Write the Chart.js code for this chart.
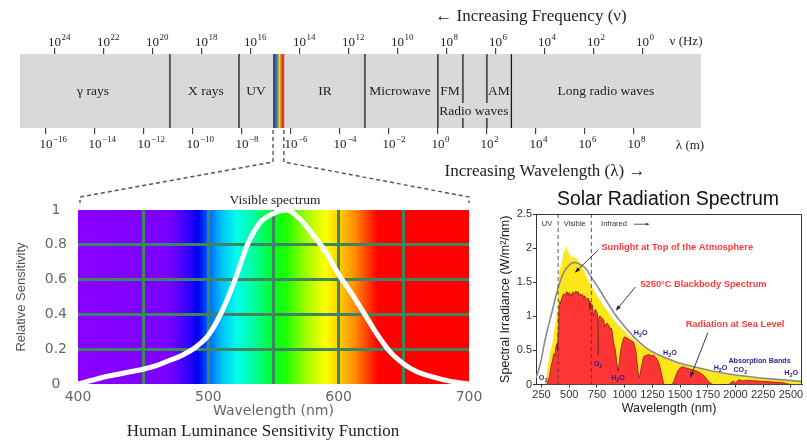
<!DOCTYPE html>
<html>
<head>
<meta charset="utf-8">
<title>Electromagnetic spectrum</title>
<script src="https://cdn.jsdelivr.net/npm/chart.js@4.4.1/dist/chart.umd.min.js"></script>
<style>
  body { margin: 0; background: #fff; width: 807px; height: 440px; position: relative; overflow: hidden; }
  canvas { position: absolute; }
</style>
</head>
<body>
<canvas id="em-band" width="807" height="190" style="left:0;top:0"></canvas>
<canvas id="lum-chart" width="490" height="320" style="left:0;top:120px"></canvas>
<canvas id="solar-chart" width="317" height="255" style="left:490px;top:185px"></canvas>
<canvas id="links" width="807" height="440" style="left:0;top:0"></canvas>
<script>
/* ── EM band: x is log10(wavelength / m) ───────────────────── */
const lambdaMin   = -17.06;
const lambdaMax   = 10.74;
const bandEdges   = [-10.94, -8.12, -2.98, 0, 1.02, 2.0, 3.0];
const visibleBand = [-6.73, -6.29];
const bandNames   = ['γ rays', 'X rays', 'UV', 'IR', 'Microwave', 'FM', 'AM', 'Long radio waves'];
const bandCenters = [-14.08, -9.47, -7.43, -4.61, -1.55, 0.49, 2.49, 6.86];
const lambdaTicks = [-16, -14, -12, -10, -8, -6, -4, -2, 0, 2, 4, 6, 8];
const freqTicks   = [24, 22, 20, 18, 16, 14, 12, 10, 8, 6, 4, 2, 0];
const freqShift   = 8.35;   // log10(nu) = freqShift - log10(lambda) on this drawing

/* ── Luminance sensitivity ─────────────────────────────────── */
const lumWavelengths = [400, 410, 420, 430, 440, 450, 460, 470, 480, 490, 500, 510, 520, 530, 540, 550,
                        560, 570, 580, 590, 600, 610, 620, 630, 640, 650, 660, 670, 680, 690, 700];
const lumSensitivity = [0, 0.02, 0.04, 0.055, 0.07, 0.085, 0.105, 0.135, 0.165, 0.21, 0.28, 0.41, 0.59, 0.80, 0.93, 0.98,
                        1.0, 0.95, 0.86, 0.76, 0.63, 0.52, 0.40, 0.28, 0.18, 0.115, 0.07, 0.045, 0.025, 0.01, 0];
const spectrumStops  = [400, 470, 485, 492, 500, 510, 522, 535, 550, 560, 575, 590, 600, 612, 622, 630, 700];
const spectrumColors = ['#8a00ff', '#7a00ff', '#3000ff', '#0000f0', '#0060ff', '#00c0ff', '#00ffe8', '#00ffa0',
                        '#00ff20', '#20ff00', '#a0ff00', '#ffff00', '#ffd000', '#ff9000', '#ff4000', '#ff0000', '#ff0000'];

/* ── Solar spectrum (nm, W/m²/nm) ──────────────────────────── */
const solarTicks = [250, 500, 750, 1000, 1250, 1500, 1750, 2000, 2250, 2500];
const bandLimits = [400, 700];

const bbWl  = [200, 225, 250, 275, 300, 325, 350, 375, 400, 450, 500, 550, 600, 650, 700, 750, 800, 900,
               1000, 1100, 1200, 1300, 1400, 1500, 1600, 1700, 1800, 1900, 2000, 2100, 2200, 2300, 2400, 2500, 2600];
const bbVal = [0.10, 0.22, 0.38, 0.60, 0.78, 0.94, 1.10, 1.27, 1.42, 1.64, 1.75, 1.79, 1.76, 1.70, 1.57, 1.45, 1.32, 1.06,
               0.85, 0.67, 0.53, 0.44, 0.37, 0.31, 0.27, 0.23, 0.195, 0.165, 0.14, 0.12, 0.10, 0.086, 0.072, 0.058, 0.045];

const toaWl  = [280, 290, 300, 310, 320, 330, 340, 350, 360, 370, 380, 390, 395,
                400, 405, 410, 415, 420, 425, 430, 435, 440, 445, 450, 455, 460, 465, 470, 475, 480, 485, 490, 495,
                500, 505, 510, 515, 520, 525, 530, 535, 540, 545, 550, 555, 560, 565, 570, 575, 580, 585, 590, 595, 600,
                610, 620, 630, 640, 650, 660, 670, 680, 690, 700, 720, 740, 760, 780, 800, 830, 860, 900,
                950, 1000, 1050, 1100, 1150, 1200, 1300, 1400, 1500, 1600, 1700, 1800, 1900, 2000, 2100, 2200, 2300, 2400, 2500, 2600];
const toaVal = [0, 0.08, 0.2, 0.3, 0.4, 0.5, 0.55, 0.62, 0.75, 0.82, 0.95, 1.1, 1.05,
                1.45, 1.6, 1.72, 1.62, 1.78, 1.7, 1.68, 1.85, 1.8, 1.92, 2.0, 1.95, 2.03, 1.96, 2.05, 1.98, 2.04, 1.95, 1.9, 1.98,
                1.93, 1.97, 1.88, 1.83, 1.9, 1.86, 1.92, 1.87, 1.9, 1.86, 1.89, 1.85, 1.87, 1.83, 1.86, 1.82, 1.84, 1.79, 1.81, 1.77, 1.78,
                1.74, 1.71, 1.67, 1.64, 1.6, 1.57, 1.54, 1.51, 1.48, 1.45, 1.39, 1.33, 1.28, 1.23, 1.18, 1.11, 1.04, 0.95,
                0.86, 0.78, 0.70, 0.63, 0.57, 0.52, 0.43, 0.36, 0.30, 0.26, 0.22, 0.185, 0.155, 0.13, 0.11, 0.093, 0.079, 0.066, 0.055, 0.045];

const seaWl  = [295, 310, 320, 330, 340, 350, 360, 370, 380, 390,
                395, 400, 405, 410, 415, 420, 430, 440, 450, 460,
                470, 480, 490, 500, 510, 520, 530, 540, 550, 560,
                570, 580, 590, 600, 610, 620, 630, 640, 650, 660,
                670, 680, 686, 690, 700, 710, 718, 725, 735, 745,
                755, 760, 765, 770, 780, 790, 800, 810, 820, 830,
                840, 850, 860, 870, 880, 890, 900, 910, 920, 930,
                940, 950, 960, 970, 980, 990, 1000, 1020, 1040, 1060,
                1080, 1100, 1110, 1120, 1130, 1140, 1150, 1160, 1170, 1180,
                1200, 1220, 1240, 1260, 1280, 1300, 1320, 1340, 1350, 1360,
                1420, 1440, 1460, 1480, 1500, 1520, 1540, 1560, 1580, 1600,
                1620, 1640, 1660, 1680, 1700, 1720, 1740, 1760, 1780, 1800,
                1940, 1960, 1980, 2000, 2010, 2020, 2040, 2060, 2080, 2100,
                2150, 2200, 2250, 2300, 2350, 2400, 2450, 2480, 2500];
const seaVal = [0, 0.05, 0.12, 0.2, 0.3, 0.35, 0.45, 0.42, 0.55, 0.6,
                0.5, 0.78, 1.0, 1.15, 1.22, 1.18, 1.25, 1.3, 1.33, 1.31,
                1.34, 1.36, 1.3, 1.35, 1.32, 1.3, 1.36, 1.33, 1.35, 1.37,
                1.34, 1.36, 1.31, 1.33, 1.3, 1.32, 1.27, 1.3, 1.26, 1.24,
                1.27, 1.22, 1.1, 1.2, 1.18, 1.16, 1.0, 1.05, 1.1, 1.08,
                1.02, 0.43, 0.95, 1.0, 1.0, 0.98, 0.96, 0.95, 0.85, 0.88,
                0.9, 0.88, 0.86, 0.8, 0.83, 0.75, 0.6, 0.55, 0.45, 0.3,
                0.2, 0.3, 0.45, 0.55, 0.62, 0.68, 0.7, 0.68, 0.66, 0.64,
                0.62, 0.5, 0.35, 0.2, 0.1, 0.15, 0.25, 0.33, 0.4, 0.42,
                0.43, 0.44, 0.42, 0.43, 0.4, 0.35, 0.25, 0.1, 0.02, 0,
                0, 0.03, 0.12, 0.2, 0.24, 0.26, 0.25, 0.24, 0.23, 0.22,
                0.21, 0.2, 0.19, 0.17, 0.15, 0.12, 0.08, 0.04, 0.01, 0,
                0, 0.03, 0.05, 0.02, 0.04, 0.06, 0.07, 0.05, 0.06, 0.06,
                0.055, 0.05, 0.045, 0.04, 0.035, 0.03, 0.02, 0.005, 0];

// callouts: text anchor, arrow tail, arrow head (nm, W/m²/nm)
const calloutText = ['Sunlight at Top of the Atmosphere', '5250°C Blackbody Spectrum', 'Radiation at Sea Level'];
const calloutAt   = [[790, 2.01], [1142, 1.47], [1550, 0.88]];
const arrowFrom   = [[760, 1.97], [1097, 1.43], [1751, 0.76]];
const arrowTo     = [[550, 1.64], [919, 1.08], [1592, 0.10]];

// absorption features, '_' marks a subscript
const absorbText = ['O_3', 'O_2', 'H_2O', 'H_2O', 'H_2O', 'H_2O', 'CO_2', 'Absorption Bands', 'H_2O'];
const absorbAt   = [[264, 0.10], [760, 0.30], [940, 0.10], [1145, 0.75], [1409, 0.46],
                    [1865, 0.24], [2043, 0.21], [2217, 0.35], [2502, 0.17]];

/* ── helpers ───────────────────────────────────────────────── */
const toPoints = (xs, ys) => xs.map((x, i) => ({ x, y: ys[i] }));
const plainNum = v => String(+v.toFixed(2));

// pin an axis to a fixed thickness and stop label overhang from moving the plot
const fixAxis = (w, h) => s => {
  if (w != null) s.width = w;
  if (h != null) s.height = h;
  s.paddingLeft = s.paddingRight = s.paddingTop = s.paddingBottom = 0;
};

function drawPower(ctx, x, y, exp) {
  ctx.textAlign = 'left';
  ctx.textBaseline = 'alphabetic';
  ctx.font = '13px "Liberation Serif"';
  const w = ctx.measureText('10').width;
  ctx.fillText('10', x - w / 2, y);
  ctx.font = '9px "Liberation Serif"';
  ctx.fillText(exp < 0 ? '−' + (-exp) : String(exp), x + w / 2 + 0.5, y - 6);
}

function drawArrow(ctx, x0, y0, x1, y1, head) {
  const ang = Math.atan2(y1 - y0, x1 - x0);
  ctx.beginPath();
  ctx.moveTo(x0, y0);
  ctx.lineTo(x1 - Math.cos(ang) * head * 0.6, y1 - Math.sin(ang) * head * 0.6);
  ctx.stroke();
  ctx.beginPath();
  ctx.moveTo(x1, y1);
  ctx.lineTo(x1 - head * Math.cos(ang - 0.35), y1 - head * Math.sin(ang - 0.35));
  ctx.lineTo(x1 - head * Math.cos(ang + 0.35), y1 - head * Math.sin(ang + 0.35));
  ctx.closePath();
  ctx.fill();
}

function drawChem(ctx, text, cx, cy, size) {
  const parts = [];
  for (let i = 0; i < text.length; i++) {
    if (text[i] === '_') { parts.push({ t: text[++i], sub: true }); }
    else parts.push({ t: text[i], sub: false });
  }
  const fontOf = p => `bold ${p.sub ? size * 0.75 : size}px "Liberation Sans"`;
  let total = 0;
  parts.forEach(p => { ctx.font = fontOf(p); p.w = ctx.measureText(p.t).width; total += p.w; });
  let x = cx - total / 2;
  ctx.textAlign = 'left';
  ctx.textBaseline = 'middle';
  parts.forEach(p => {
    ctx.font = fontOf(p);
    ctx.fillText(p.t, x, p.sub ? cy + size * 0.35 : cy);
    x += p.w;
  });
}

/* ── EM band decorations ───────────────────────────────────── */
const edgeKinds    = ['soft', 'soft', 'soft', 'hard', 'split', 'split', 'hard'];
const stripeColors = ['#3d3d99', '#3a63c4', '#4aa843', '#e8df3a', '#f0962a', '#e53a2a'];
const stripeCuts   = [0, 0.17, 0.34, 0.51, 0.63, 0.77, 1];

const emDecor = {
  id: 'emDecor',
  afterDatasetsDraw(chart) {
    const { ctx, chartArea: a, scales: { x } } = chart;
    ctx.save();
    const s0 = x.getPixelForValue(visibleBand[0]);
    const w  = x.getPixelForValue(visibleBand[1]) - s0;
    stripeColors.forEach((c, i) => {
      ctx.fillStyle = c;
      ctx.fillRect(s0 + stripeCuts[i] * w, a.top, (stripeCuts[i + 1] - stripeCuts[i]) * w + 0.4, a.bottom - a.top);
    });

    bandEdges.forEach((e, i) => {
      const px = x.getPixelForValue(e);
      const kind = edgeKinds[i];
      ctx.strokeStyle = kind === 'hard' ? '#1a1a1a' : '#5c5c5c';
      ctx.lineWidth = kind === 'hard' ? 1.3 : 2;
      ctx.beginPath();
      if (kind === 'split') {
        ctx.moveTo(px, a.top); ctx.lineTo(px, a.top + 49);
        ctx.moveTo(px, a.top + 64); ctx.lineTo(px, a.bottom);
      } else {
        ctx.moveTo(px, a.top); ctx.lineTo(px, a.bottom);
      }
      ctx.stroke();
    });

    ctx.fillStyle = '#222';
    ctx.font = '13.5px "Liberation Serif"';
    ctx.textAlign = 'center';
    ctx.textBaseline = 'middle';
    const midY = (a.top + a.bottom) / 2;
    bandNames.forEach((n, i) => ctx.fillText(n, x.getPixelForValue(bandCenters[i]), midY));
    ctx.fillText('Radio waves', x.getPixelForValue(1.47), midY + 20);
    ctx.restore();
  },
  afterDraw(chart) {
    const { ctx, chartArea: a, scales: { x, x2 } } = chart;
    ctx.save();
    ctx.fillStyle = '#222';
    x.ticks.forEach(t => drawPower(ctx, x.getPixelForValue(t.value), a.bottom + 20, t.value));
    x2.ticks.forEach(t => drawPower(ctx, x2.getPixelForValue(t.value), a.top - 8, t.value));

    ctx.font = '13px "Liberation Serif"';
    ctx.textAlign = 'center';
    ctx.textBaseline = 'middle';
    ctx.fillText('ν (Hz)', a.right - 15, a.top - 12);
    ctx.fillText('λ (m)', a.right - 11, a.bottom + 18);

    ctx.font = '17px "Liberation Serif"';
    ctx.fillText('← Increasing Frequency (ν)', a.left + 511, a.top - 37);
    ctx.fillText('Increasing Wavelength (λ) →', a.left + 525, a.bottom + 44);
    ctx.restore();
  }
};

const emChart = new Chart(document.getElementById('em-band'), {
  type: 'bar',
  data: {
    labels: ['band'],
    datasets: [{
      data: [[lambdaMin, lambdaMax]],
      backgroundColor: '#d9d9d9',
      borderWidth: 0,
      barPercentage: 1,
      categoryPercentage: 1
    }]
  },
  options: {
    indexAxis: 'y',
    responsive: false,
    animation: false,
    events: [],
    layout: { padding: { left: 20, right: 106, top: 48, bottom: 56 } },
    plugins: { legend: { display: false }, tooltip: { enabled: false } },
    scales: {
      x: {
        type: 'linear', position: 'bottom', min: lambdaMin, max: lambdaMax,
        afterBuildTicks: s => { s.ticks = lambdaTicks.map(v => ({ value: v })); },
        afterFit: fixAxis(null, 6),
        grid: { drawOnChartArea: false, tickLength: 6, color: '#444', lineWidth: 1.2 },
        border: { display: false },
        ticks: { display: false }
      },
      x2: {
        type: 'linear', position: 'top', reverse: true,
        min: freqShift - lambdaMax, max: freqShift - lambdaMin,
        afterBuildTicks: s => { s.ticks = freqTicks.map(v => ({ value: v })); },
        afterFit: fixAxis(null, 6),
        grid: { drawOnChartArea: false, tickLength: 6, color: '#444', lineWidth: 1.2 },
        border: { display: false },
        ticks: { display: false }
      },
      y: { display: false }
    }
  },
  plugins: [emDecor]
});

/* ── Human luminance sensitivity ───────────────────────────── */
const gridGreen = 'rgb(62,134,96)';

const lumDecor = {
  id: 'lumDecor',
  beforeDraw(chart) {
    const { ctx, chartArea: a, scales: { x } } = chart;
    const g = ctx.createLinearGradient(a.left, 0, a.right, 0);
    spectrumStops.forEach((nm, i) => {
      g.addColorStop((x.getPixelForValue(nm) - a.left) / (a.right - a.left), spectrumColors[i]);
    });
    ctx.save();
    ctx.fillStyle = g;
    ctx.fillRect(a.left, a.top, a.right - a.left, a.bottom - a.top);
    ctx.restore();
  },
  afterDraw(chart) {
    const { ctx, chartArea: a } = chart;
    const mid = (a.left + a.right) / 2;
    ctx.save();
    ctx.fillStyle = '#222';
    ctx.textAlign = 'center';
    ctx.textBaseline = 'middle';
    ctx.font = '13.5px "Liberation Serif"';
    ctx.fillText('Visible spectrum', mid + 1.5, a.top - 10);
    ctx.font = '17px "Liberation Serif"';
    ctx.fillText('Human Luminance Sensitivity Function', mid - 10.5, a.bottom + 48);
    ctx.restore();
  }
};

const lumChart = new Chart(document.getElementById('lum-chart'), {
  type: 'line',
  data: {
    datasets: [{
      data: toPoints(lumWavelengths, lumSensitivity),
      borderColor: '#fff',
      borderWidth: 5,
      pointRadius: 0,
      cubicInterpolationMode: 'monotone',
      fill: false
    }]
  },
  options: {
    responsive: false,
    animation: false,
    events: [],
    layout: { padding: { left: 10, right: 21, top: 90, bottom: 16 } },
    plugins: { legend: { display: false }, tooltip: { enabled: false } },
    scales: {
      x: {
        type: 'linear', min: 400, max: 700,
        afterFit: fixAxis(null, 40),
        ticks: {
          stepSize: 50, padding: 5, color: '#666', maxRotation: 0,
          font: { family: 'DejaVu Sans', size: 14 },
          callback: v => (v % 100 === 0 ? String(v) : '')
        },
        grid: {
          drawTicks: false, lineWidth: 3,
          color: c => (c.tick && (c.tick.value === 400 || c.tick.value === 700) ? 'rgba(0,0,0,0)' : gridGreen)
        },
        border: { display: false },
        title: { display: true, text: 'Wavelength (nm)', color: '#666', font: { family: 'DejaVu Sans', size: 14 } }
      },
      y: {
        min: 0, max: 1,
        afterFit: fixAxis(68, null),
        ticks: {
          stepSize: 0.2, padding: 11, color: '#666', crossAlign: 'center',
          font: { family: 'DejaVu Sans', size: 14 },
          callback: plainNum
        },
        grid: {
          drawTicks: false, lineWidth: 3,
          color: c => (c.tick && (c.tick.value === 0 || c.tick.value === 1) ? 'rgba(0,0,0,0)' : gridGreen)
        },
        border: { display: false },
        title: { display: true, text: 'Relative Sensitivity', color: '#555', font: { family: 'Liberation Sans', size: 13 } }
      }
    }
  },
  plugins: [lumDecor]
});

/* ── Solar radiation spectrum ──────────────────────────────── */
const solarDecor = {
  id: 'solarDecor',
  afterDatasetsDraw(chart) {
    const { ctx, chartArea: a, scales: { x, y } } = chart;
    ctx.save();
    // UV / visible / infrared limits
    ctx.strokeStyle = 'rgba(60,60,60,0.7)';
    ctx.lineWidth = 1.2;
    ctx.setLineDash([4, 3]);
    bandLimits.forEach(nm => {
      const px = x.getPixelForValue(nm);
      ctx.beginPath(); ctx.moveTo(px, a.top); ctx.lineTo(px, a.bottom); ctx.stroke();
    });
    ctx.setLineDash([]);

    // frame on the open sides
    ctx.strokeStyle = '#333';
    ctx.lineWidth = 1;
    ctx.beginPath();
    ctx.moveTo(a.left, a.top + 0.5); ctx.lineTo(a.right - 0.5, a.top + 0.5); ctx.lineTo(a.right - 0.5, a.bottom);
    ctx.stroke();

    // region names along the top
    const topY = y.getPixelForValue(2.35);
    ctx.fillStyle = '#333';
    ctx.font = '7.5px "Liberation Sans"';
    ctx.textAlign = 'center';
    ctx.textBaseline = 'middle';
    ctx.fillText('UV', x.getPixelForValue(300), topY);
    ctx.fillText('Visible', x.getPixelForValue(550), topY);
    ctx.fillText('Infrared', x.getPixelForValue(904), topY);
    ctx.strokeStyle = '#333';
    ctx.lineWidth = 0.8;
    drawArrow(ctx, x.getPixelForValue(1082), topY, x.getPixelForValue(1226), topY, 4);

    // callouts
    ctx.strokeStyle = '#222';
    ctx.fillStyle = '#222';
    ctx.lineWidth = 0.9;
    arrowFrom.forEach((p, i) => {
      drawArrow(ctx, x.getPixelForValue(p[0]), y.getPixelForValue(p[1]),
                x.getPixelForValue(arrowTo[i][0]), y.getPixelForValue(arrowTo[i][1]), 6);
    });
    ctx.fillStyle = '#ff3a3a';
    ctx.font = 'bold 9.3px "Liberation Sans"';
    ctx.textAlign = 'left';
    calloutText.forEach((t, i) => {
      ctx.fillText(t, x.getPixelForValue(calloutAt[i][0]), y.getPixelForValue(calloutAt[i][1]));
    });

    ctx.fillStyle = '#2f1e8c';
    absorbText.forEach((t, i) => {
      drawChem(ctx, t, x.getPixelForValue(absorbAt[i][0]), y.getPixelForValue(absorbAt[i][1]), 7.2);
    });
    ctx.restore();
  },
  afterDraw(chart) {
    const { ctx, chartArea: a } = chart;
    ctx.save();
    ctx.fillStyle = '#111';
    ctx.font = '19.5px "Liberation Sans"';
    ctx.textAlign = 'center';
    ctx.textBaseline = 'middle';
    ctx.fillText('Solar Radiation Spectrum', (a.left + a.right) / 2 - 1, a.top - 14);
    ctx.restore();
  }
};

const solarChart = new Chart(document.getElementById('solar-chart'), {
  type: 'line',
  data: {
    datasets: [
      {
        label: '5250°C Blackbody Spectrum',
        data: toPoints(bbWl, bbVal),
        borderColor: '#8a8a8a',
        borderWidth: 1.6,
        pointRadius: 0,
        cubicInterpolationMode: 'monotone',
        fill: false
      },
      {
        label: 'Radiation at Sea Level',
        data: toPoints(seaWl, seaVal),
        borderColor: '#7a1d1d',
        borderWidth: 0.8,
        backgroundColor: '#ff3535',
        pointRadius: 0,
        tension: 0,
        fill: 'origin'
      },
      {
        label: 'Sunlight at Top of the Atmosphere',
        data: toPoints(toaWl, toaVal),
        borderWidth: 0,
        backgroundColor: '#ffe619',
        pointRadius: 0,
        tension: 0,
        fill: 'origin'
      }
    ]
  },
  options: {
    responsive: false,
    animation: false,
    events: [],
    layout: { padding: { left: 4, right: 5, top: 29, bottom: 20 } },
    plugins: { legend: { display: false }, tooltip: { enabled: false } },
    scales: {
      x: {
        type: 'linear', min: 200, max: 2600,
        afterBuildTicks: s => { s.ticks = solarTicks.map(v => ({ value: v })); },
        afterFit: fixAxis(null, 35.5),
        ticks: {
          padding: 1, color: '#333', maxRotation: 0, minRotation: 0, autoSkip: false,
          font: { family: 'Liberation Sans', size: 11 }, callback: v => String(v)
        },
        grid: { drawOnChartArea: false, tickLength: 3, color: '#333' },
        border: { color: '#333', width: 1 },
        title: { display: true, text: 'Wavelength (nm)', color: '#222', font: { family: 'Liberation Sans', size: 12.5 } }
      },
      y: {
        min: 0, max: 2.5,
        afterFit: fixAxis(42, null),
        ticks: { stepSize: 0.5, padding: 1, color: '#333', font: { family: 'Liberation Sans', size: 11 }, callback: plainNum },
        grid: { drawOnChartArea: false, tickLength: 3, color: '#333' },
        border: { color: '#333', width: 1 },
        title: { display: true, text: 'Spectral Irradiance (W/m²/nm)', color: '#222', font: { family: 'Liberation Sans', size: 12.5 } }
      }
    }
  },
  plugins: [solarDecor]
});

/* ── Dashed guides from the visible strip down to the luminance plot ── */
function drawLinks() {
  const ctx = document.getElementById('links').getContext('2d');
  const band = emChart.chartArea;
  const lum = lumChart.chartArea;
  const lumTop = 120;                       // page offset of the luminance canvas
  const xs = visibleBand.map(v => emChart.scales.x.getPixelForValue(v));
  const kneeY = band.bottom + 34;
  const endY = lum.top + lumTop - 13;
  ctx.save();
  ctx.strokeStyle = '#555';
  ctx.lineWidth = 1.4;
  ctx.setLineDash([4, 3]);
  [[xs[0], lum.left + 2], [xs[1], lum.right]].forEach(([from, to]) => {
    ctx.beginPath();
    ctx.moveTo(from, band.bottom + 2);
    ctx.lineTo(from, kneeY);
    ctx.lineTo(to, endY);
    ctx.lineTo(to, endY + 6);
    ctx.stroke();
  });
  ctx.restore();
}
drawLinks();
</script>
</body>
</html>
